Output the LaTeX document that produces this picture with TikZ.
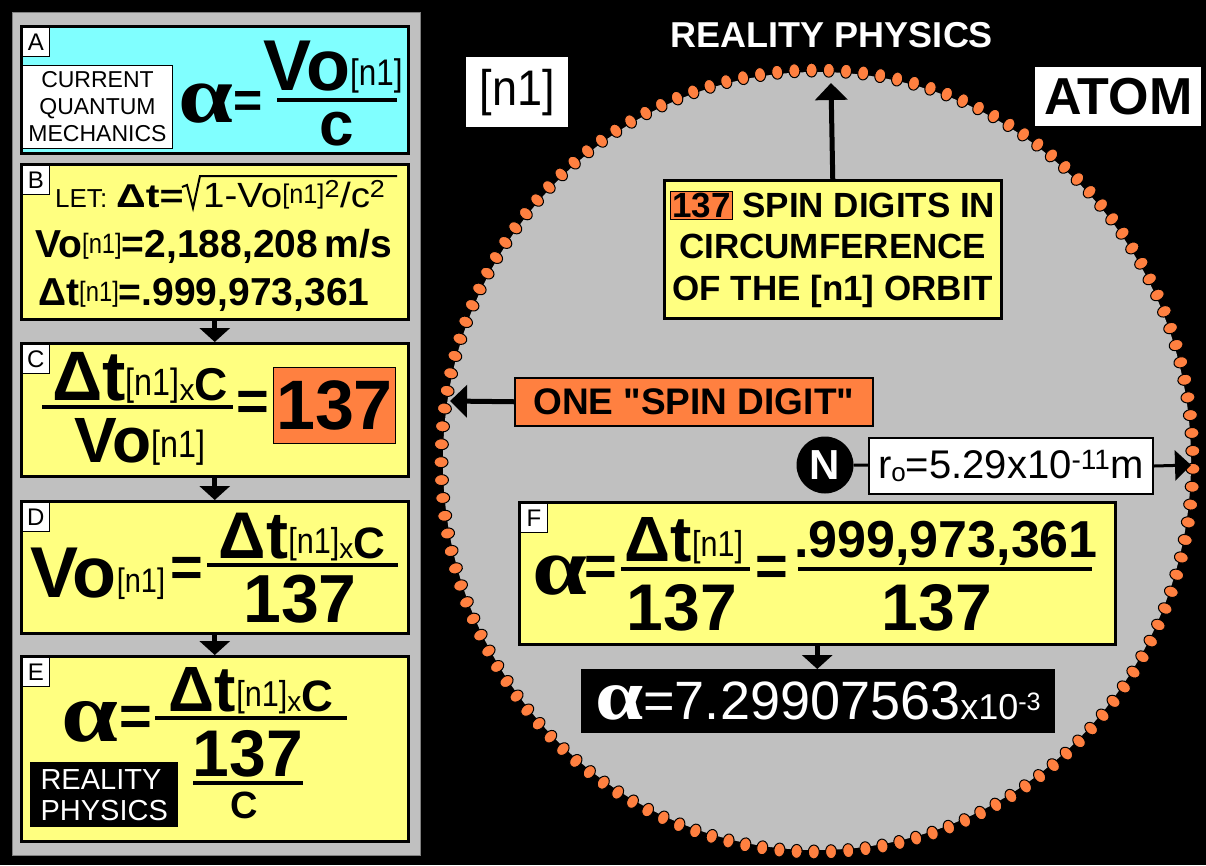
\documentclass[tikz,border=0pt]{standalone}
\usepackage{graphicx}
\usepackage{fontspec}
\setmainfont{Liberation Sans}[Ligatures=TeXOff]
\newfontfamily\alfont{Liberation Serif}
\usetikzlibrary{positioning, arrows.meta, shapes.geometric, calc}

\definecolor{panelgrey}{HTML}{C0C0C0}
\definecolor{qmcyan}{HTML}{80FFFF}
\definecolor{eqyellow}{HTML}{FFFF80}
\definecolor{spinorange}{HTML}{FF8040}

\newcommand{\fsz}[1]{\fontsize{#1}{#1}\selectfont}
\newcommand{\nn}[1]{{\mdseries\fsz{#1}\raisebox{0.12em}{\scalebox{0.85}[1]{[n1]}}}}
\newcommand{\alf}[1]{{\alfont\bfseries\fsz{#1}\scalebox{1.2}[1]{α}}}
\setlength{\fboxsep}{1pt}
\setlength{\fboxrule}{1pt}

\begin{document}
\begin{tikzpicture}[x=1pt, y=-1pt,
  txt/.style={inner sep=0pt, font=\bfseries\fsz{#1}},
  eqbox/.style={draw, line width=2.5pt, fill=eqyellow, anchor=north west,
                minimum width=387, inner sep=0pt},
  tag/.style={draw, fill=white, line width=0.8pt, anchor=north west,
              minimum width=27, minimum height=29, inner sep=0pt, font=\fsz{24}},
  bar/.style={line width=4pt},
  dn/.style={-{Triangle[width=30pt, length=14pt]}, line width=5pt},
  arr/.style={-{Triangle[width=32pt, length=17pt]}, line width=5pt},
  dot/.style={ellipse, draw, line width=1pt, fill=spinorange,
              minimum width=14, minimum height=11, inner sep=0pt},
]
\fill[black] (0,0) rectangle (1206,865);
\useasboundingbox (0,0) rectangle (1206,865);

% left column
\node[fill=panelgrey, draw=gray, line width=1pt, anchor=north west,
      minimum width=408, minimum height=843, inner sep=0pt] (panel) at (12,12) {};
\node[eqbox, fill=qmcyan, minimum height=127] (boxA) at (20,25) {};
\node[eqbox, minimum height=155] (boxB) at (20,163) {};
\node[eqbox, minimum height=133] (boxC) at (20,342) {};
\node[eqbox, minimum height=132] (boxD) at (20,500) {};
\node[eqbox, minimum height=185] (boxE) at (20,655) {};
\foreach \b in {A,B,C,D,E}
  \node[tag] (tag\b) at ([shift={(2,2)}]box\b.north west) {\b};
\draw[dn] (boxB) -- (boxC);
\draw[dn] (boxC) -- (boxD);
\draw[dn] (boxD) -- (boxE);

% A
\node[draw, fill=white, line width=1pt, anchor=north west, minimum width=150,
      minimum height=83, inner sep=0pt, align=center,
      font=\fontsize{23}{27}\selectfont] (qm) at (22,65) {CURRENT\\QUANTUM\\MECHANICS};
\node[txt=80] (alA) at (206,104) {\alf{82}};
\node[txt=50] (eqA) at (248,104) {=};
\node[txt=72, anchor=base] (numA) at (333,90) {Vo\nn{37}};
\draw[bar] (277,100) -- (397,100);
\node[txt=62, anchor=base] (denA) at (337,145) {c};

% B
\node[anchor=base west, inner sep=0pt, font=\fsz{26}] (letB) at (55,207) {LET:};
\node[txt=33, anchor=base west] (dtB) at (116,207) {\scalebox{1.25}[1]{Δt=}};
\draw[line width=2pt] (182,187) -- (187,185) -- (193,208) -- (200,176) -- (397,176);
\node[anchor=base west, inner sep=0pt, font=\fsz{35}] (radB) at (203,207)
  {\scalebox{1.1}[1]{1-Vo\nn{27}\textsuperscript{2}/c\textsuperscript{2}}};
\node[txt=39, anchor=base west] (voB) at (35,257) {Vo\nn{28}=2,188,208\,m/s};
\node[txt=39, anchor=base west] (dtB2) at (38,305) {Δt\nn{28}=.999,973,361};

% C
\node[txt=70, anchor=base] (numC) at (140,400) {Δt\nn{38}{\mdseries\fsz{30}x}{\fsz{46}C}};
\draw[bar] (42,407) -- (233,407);
\node[txt=64, anchor=base] (denC) at (140,462) {Vo\nn{38}};
\node[txt=56] (eqC) at (253,406) {=};
\node[draw, line width=1pt, fill=spinorange, anchor=north west, minimum width=122,
      minimum height=76, inner sep=0pt, font=\bfseries\fsz{70}] (oneC) at (273,367) {137};

% D
\node[txt=72, anchor=base west] (voD) at (30,597) {Vo\nn{34}};
\node[txt=56] (eqD) at (187,572) {=};
\node[txt=66, anchor=base] (numD) at (302,558) {Δt\nn{36}{\mdseries\fsz{28}x}{\fsz{44}C}};
\draw[bar] (207,565) -- (398,565);
\node[txt=68, anchor=base] (denD) at (300,622) {137};

% E
\node[txt=80] (alE) at (90,722) {\alf{85}};
\node[txt=56] (eqE) at (136,721) {=};
\node[txt=64, anchor=base] (numE) at (251,711) {Δt\nn{36}{\mdseries\fsz{28}x}{\fsz{44}C}};
\draw[bar] (155,718) -- (347,718);
\node[txt=66, anchor=base] (midE) at (248,776) {137};
\draw[bar] (193,783) -- (303,783);
\node[txt=38, anchor=base] (denE) at (244,818) {C};
\node[fill=black, text=white, anchor=north west, minimum width=148, minimum height=65,
      inner sep=0pt, align=left, font=\fontsize{29}{31}\selectfont] (rpE) at (30,762)
  {REALITY\\PHYSICS};

% right side: the atom
\node[txt=36, text=white] (title) at (832,35) {REALITY PHYSICS};
\node[fill=white, anchor=north west, minimum width=102, minimum height=70,
      inner sep=0pt, font=\fsz{50}] (nOne) at (466,57) {\scalebox{0.9}[1]{[n1]}};
\node[fill=white, anchor=north west, minimum width=166, minimum height=59,
      inner sep=0pt, font=\bfseries\fsz{52}] (atom) at (1035,67) {ATOM};

\node[ellipse, fill=panelgrey, minimum width=748, minimum height=778, inner sep=0pt]
  (orbit) at (817,461) {};
\foreach \k in {0,...,136}
  \path (817,461) ++({-88.2+\k*2.62774}:376 and 391)
    node[dot, rotate={88.2-\k*2.62774}] (dot\k) {};

\node[draw, line width=2.5pt, fill=eqyellow, anchor=north west, minimum width=337,
      minimum height=138, inner sep=0pt, align=center,
      font=\bfseries\fontsize{35}{41.5}\selectfont] (spin) at (663,179)
  {\fcolorbox{black}{spinorange}{137} SPIN DIGITS IN\\CIRCUMFERENCE\\OF THE [n1] ORBIT};
\coordinate (tipN) at (831,83);
\draw[arr] (spin.north) -- (tipN);

\node[draw, line width=1.5pt, fill=spinorange, anchor=north west, minimum width=358,
      minimum height=48, inner sep=0pt, font=\bfseries\fsz{37}] (one) at (514,377)
  {ONE "SPIN DIGIT"};
\coordinate (tipW) at (450,401);
\draw[arr] (one.west) -- (tipW);

\node[circle, fill=black, minimum size=57, inner sep=0pt, text=white,
      font=\bfseries\fsz{42}] (nuc) at (825,465) {N};
\node[draw, line width=2pt, fill=white, anchor=north west, minimum width=284,
      minimum height=56, inner sep=0pt, font=\fsz{40}] (rad) at (868,437)
  {r\raisebox{-3pt}{\fsz{26}o}=5.29x10\textsuperscript{-11}m};
\draw[line width=3pt] (nuc) -- (rad);
\coordinate (tipE) at (1191,465);
\draw[-{Triangle[width=30pt, length=16pt]}, line width=3pt] (rad.east) -- (tipE);

% F
\node[eqbox, minimum width=596, minimum height=142] (boxF) at (518,501) {};
\node[tag] (tagF) at ([shift={(2,2)}]boxF.north west) {F};
\node[txt=80] (alF) at (560,576) {\alf{82}};
\node[txt=56] (eqF1) at (601,571) {=};
\node[txt=64, anchor=base] (numF1) at (684,561) {Δt\nn{36}};
\draw[bar] (621,569) -- (750,569);
\node[txt=66, anchor=base] (denF1) at (682,630) {137};
\node[txt=56] (eqF2) at (772,571) {=};
\node[txt=52, anchor=base] (numF2) at (946,557) {.999,973,361};
\draw[bar] (798,569) -- (1092,569);
\node[txt=66, anchor=base] (denF2) at (937,630) {137};

\node[fill=black, text=white, anchor=north west, minimum width=474, minimum height=64,
      inner sep=0pt, font=\fsz{54}] (res) at (581,669)
  {\alf{72}=7.29907563{\fsz{36}x10\textsuperscript{-3}}};
\draw[dn] (boxF.south) -- (boxF.south |- res.north);
\end{tikzpicture}
\end{document}
